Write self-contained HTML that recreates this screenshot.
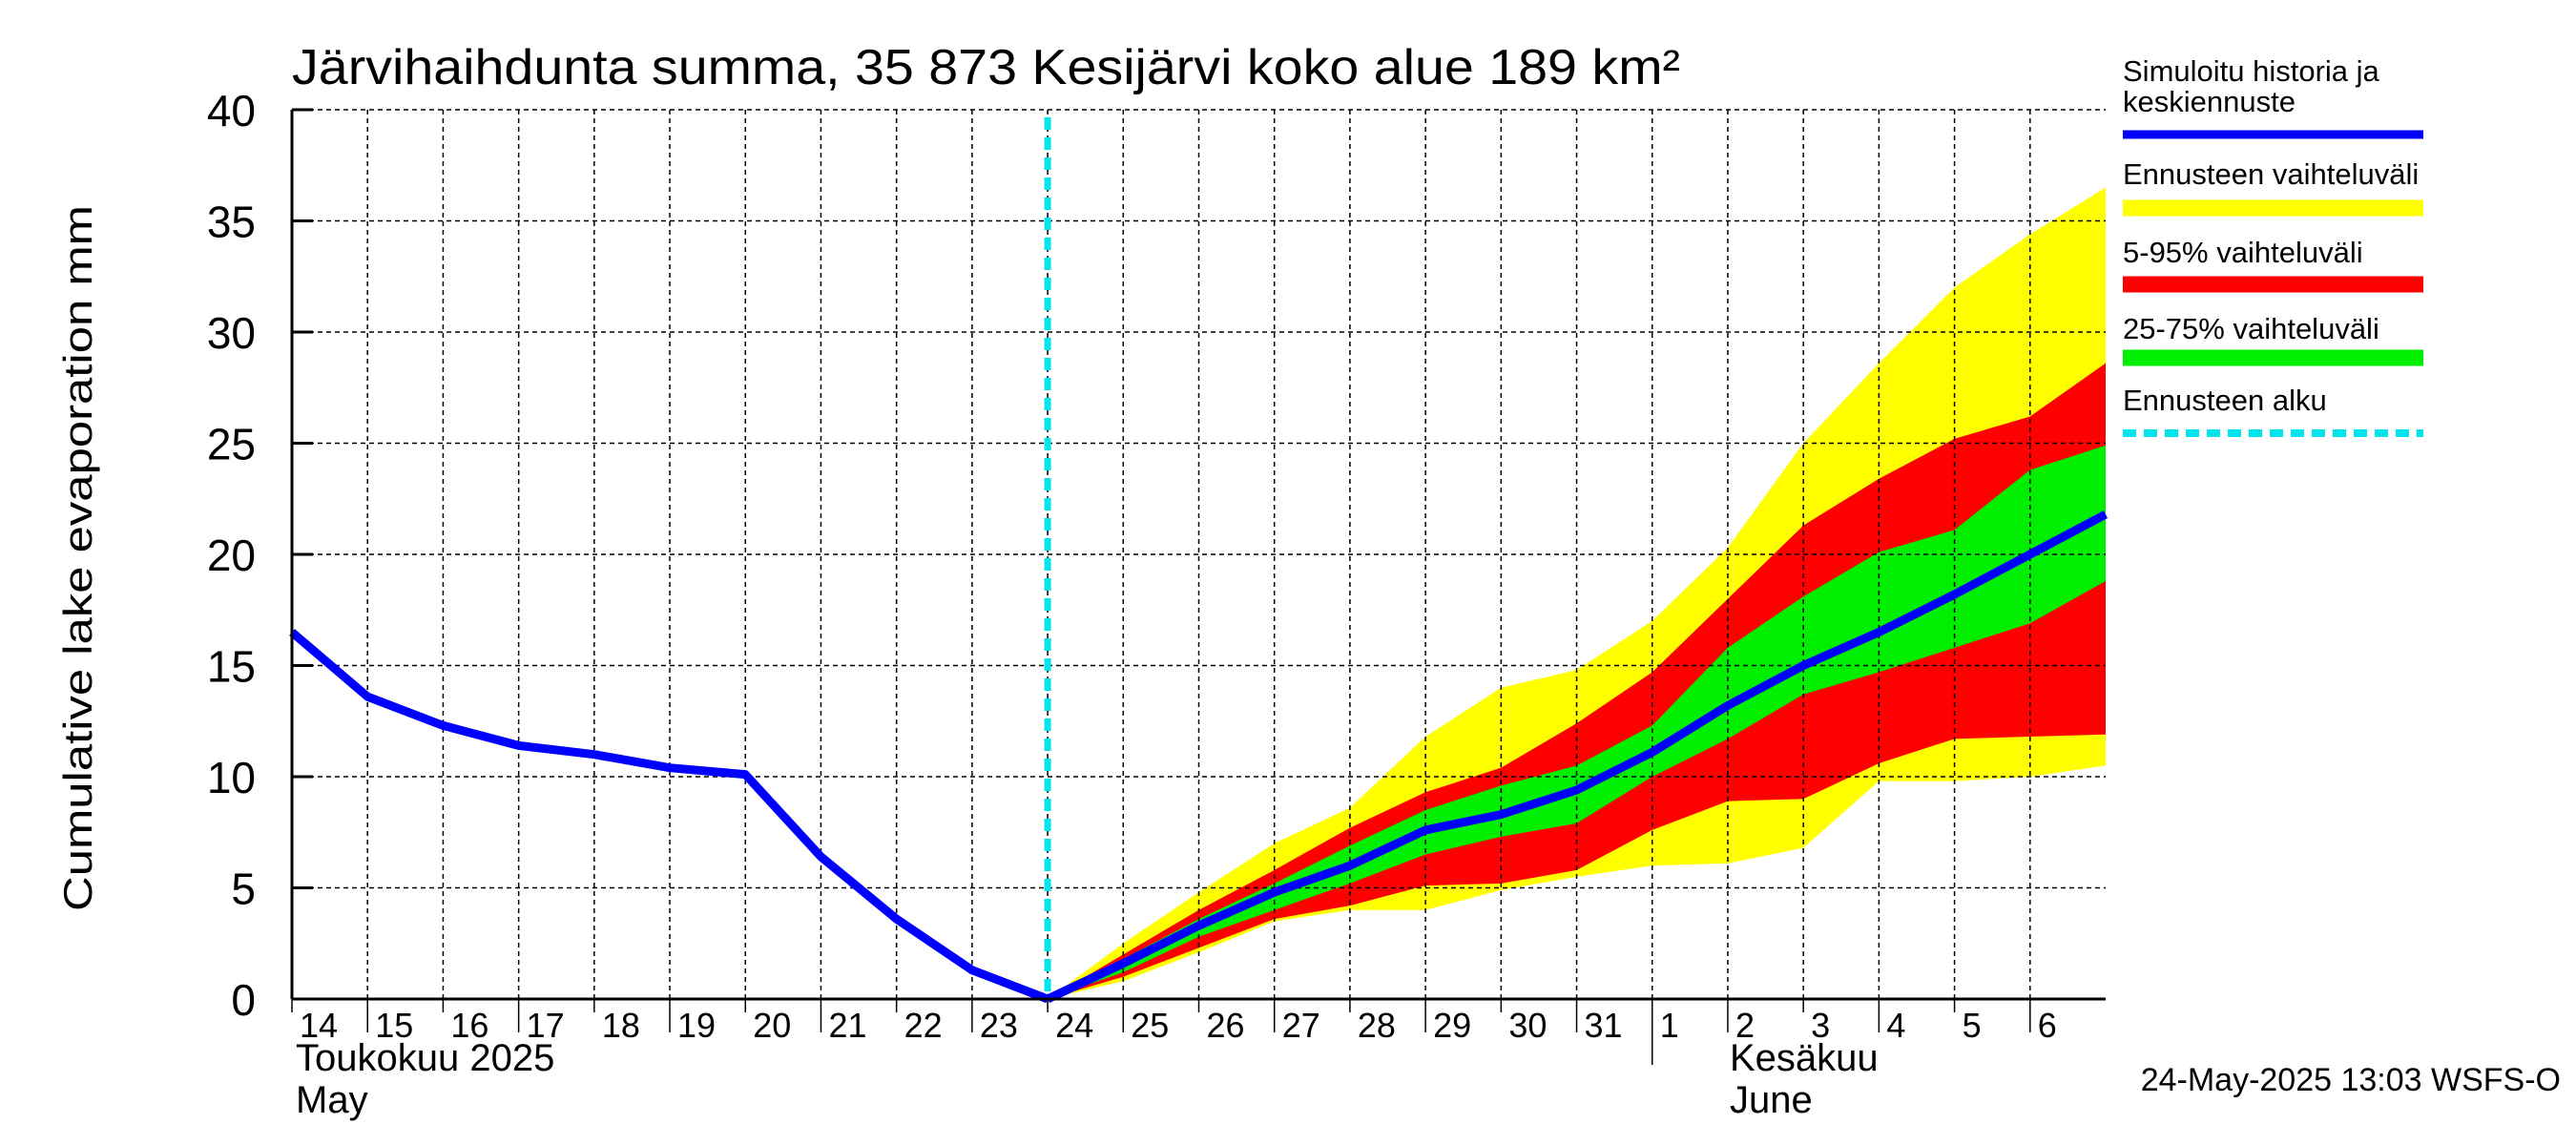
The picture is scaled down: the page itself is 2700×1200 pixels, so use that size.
<!DOCTYPE html>
<html><head><meta charset="utf-8"><style>body{margin:0;background:#fff}svg{display:block}</style></head>
<body>
<svg id="chart" width="2700" height="1200" viewBox="0 0 2700 1200" xmlns="http://www.w3.org/2000/svg" font-family="'Liberation Sans', sans-serif">
<rect width="2700" height="1200" fill="#fff"/>
<g id="bands"></g><g id="grid"></g><g id="lines"></g><g id="axes"></g>
<text x="306" y="88" font-size="52" textLength="1455" lengthAdjust="spacingAndGlyphs">Järvihaihdunta summa, 35 873 Kesijärvi koko alue 189 km²</text>
<text transform="translate(96,585) rotate(-90)" text-anchor="middle" font-size="42" textLength="740" lengthAdjust="spacingAndGlyphs">Cumulative lake evaporation   mm</text>
<text x="310" y="1122" font-size="40">Toukokuu  2025</text>
<text x="310" y="1166" font-size="40">May</text>
<text x="1813" y="1122" font-size="40">Kesäkuu</text>
<text x="1813" y="1166" font-size="40">June</text>
<text x="2684" y="1143" text-anchor="end" font-size="34">24-May-2025 13:03 WSFS-O</text>
<g font-size="31">
<text x="2225" y="85">Simuloitu historia ja</text><text x="2225" y="117">keskiennuste</text>
<line x1="2225" y1="141" x2="2540" y2="141" stroke="#0000ff" stroke-width="9"/>
<text x="2225" y="193">Ennusteen vaihteluväli</text>
<line x1="2225" y1="218" x2="2540" y2="218" stroke="#ffff00" stroke-width="17"/>
<text x="2225" y="275">5-95% vaihteluväli</text>
<line x1="2225" y1="298" x2="2540" y2="298" stroke="#ff0000" stroke-width="17"/>
<text x="2225" y="355">25-75% vaihteluväli</text>
<line x1="2225" y1="375" x2="2540" y2="375" stroke="#00ee00" stroke-width="17"/>
<text x="2225" y="430">Ennusteen alku</text>
<line x1="2225" y1="454" x2="2540" y2="454" stroke="#00e5ee" stroke-width="8" stroke-dasharray="14,8"/>
</g>
</svg>
<script>
const histDays=[0,1,2,3,4,5,6,7,8,9,10];
const histVals=[16.5,13.6,12.3,11.4,11.0,10.4,10.1,6.4,3.6,1.3,0];
const fcDays=[10,11,12,13,14,15,16,17,18,19,20,21,22,23,24];
const median=[0,1.6,3.3,4.8,6.0,7.6,8.3,9.4,11.1,13.2,15.0,16.5,18.2,20.0,21.8];
const yellowHi=[0,2.5,4.8,7.0,8.6,11.8,14.0,14.8,17.0,20.3,25.0,28.6,32.0,34.4,36.5];
const yellowLo=[0,0.8,2.1,3.5,4.0,4.0,4.9,5.5,6.0,6.1,6.8,9.8,9.8,10.0,10.5];
const redHi=[0,2.0,4.0,5.8,7.7,9.3,10.4,12.4,14.7,18.0,21.3,23.4,25.2,26.2,28.6];
const redLo=[0,1.0,2.3,3.6,4.2,5.1,5.2,5.8,7.6,8.9,9.0,10.6,11.7,11.8,11.9];
const greenHi=[0,1.8,3.6,5.2,6.9,8.5,9.6,10.5,12.3,15.8,18.1,20.1,21.1,23.8,24.9];
const greenLo=[0,1.2,2.8,4.0,5.2,6.5,7.3,7.9,10.0,11.7,13.7,14.7,15.8,16.9,18.8];
const yTicks=[0,5,10,15,20,25,30,35,40];
const dayLabels=["14","15","16","17","18","19","20","21","22","23","24","25","26","27","28","29","30","31","1","2","3","4","5","6"];
const forecastStart=10;
const X0=306,X1=2207,Y0=1047,Y1=115,NDAYS=24,YMAX=40;
const sx=d=>X0+d*(X1-X0)/NDAYS, sy=v=>Y0-v*(Y0-Y1)/YMAX;
const NS="http://www.w3.org/2000/svg";
function mk(p,t,a){const e=document.createElementNS(NS,t);for(const k in a)e.setAttribute(k,a[k]);p.appendChild(e);return e;}
const bands=document.getElementById('bands'),grid=document.getElementById('grid'),lines=document.getElementById('lines'),axes=document.getElementById('axes');
function band(hi,lo,col,name){const pts=fcDays.map((d,i)=>sx(d)+','+sy(hi[i])).concat(fcDays.map((d,i)=>sx(d)+','+sy(lo[i])).reverse());
const p=mk(bands,'polygon',{points:pts.join(' '),fill:col});

}
band(yellowHi,yellowLo,'#ffff00','band-forecast-range');
band(redHi,redLo,'#ff0000','band-5-95');
band(greenHi,greenLo,'#00ee00','band-25-75');
yTicks.forEach(v=>{if(v>0){const l=mk(grid,'line',{x1:X0,x2:X1,y1:sy(v),y2:sy(v),stroke:'#000','stroke-width':1.5,'stroke-dasharray':'5,4'});

}
const t=mk(axes,'line',{x1:X0,x2:X0+22,y1:sy(v),y2:sy(v),stroke:'#000','stroke-width':3});
const tx=mk(axes,'text',{x:268,y:sy(v)+17,'text-anchor':'end','font-size':46});tx.textContent=v;

});
dayLabels.forEach((s,i)=>{if(i>0){const l=mk(grid,'line',{x1:sx(i),x2:sx(i),y1:Y1,y2:Y0,stroke:'#000','stroke-width':1.5,'stroke-dasharray':'5,4'});

}
mk(axes,'line',{x1:sx(i),x2:sx(i),y1:Y0,y2:Y0+(i==18?69:(i%2?35:14)),stroke:'#000','stroke-width':1.5});
const t=mk(axes,'text',{x:sx(i)+8,y:Y0+40,'font-size':36});t.textContent=s;

});
mk(axes,'line',{x1:X0,x2:X0,y1:Y1,y2:Y0,stroke:'#000','stroke-width':3});
mk(axes,'line',{x1:X0,x2:X1,y1:Y0,y2:Y0,stroke:'#000','stroke-width':3});
const fs=mk(lines,'line',{x1:sx(forecastStart),x2:sx(forecastStart),y1:Y1+8,y2:Y0,stroke:'#00e5ee','stroke-width':7,'stroke-dasharray':'13,8'});


const h=mk(lines,'polyline',{points:histDays.map((d,i)=>sx(d)+','+sy(histVals[i])).join(' '),fill:'none',stroke:'#0000ff','stroke-width':9,'stroke-linejoin':'round'});


const m=mk(lines,'polyline',{points:fcDays.map((d,i)=>sx(d)+','+sy(median[i])).join(' '),fill:'none',stroke:'#0000ff','stroke-width':9,'stroke-linejoin':'round'});


</script>
</body></html>
